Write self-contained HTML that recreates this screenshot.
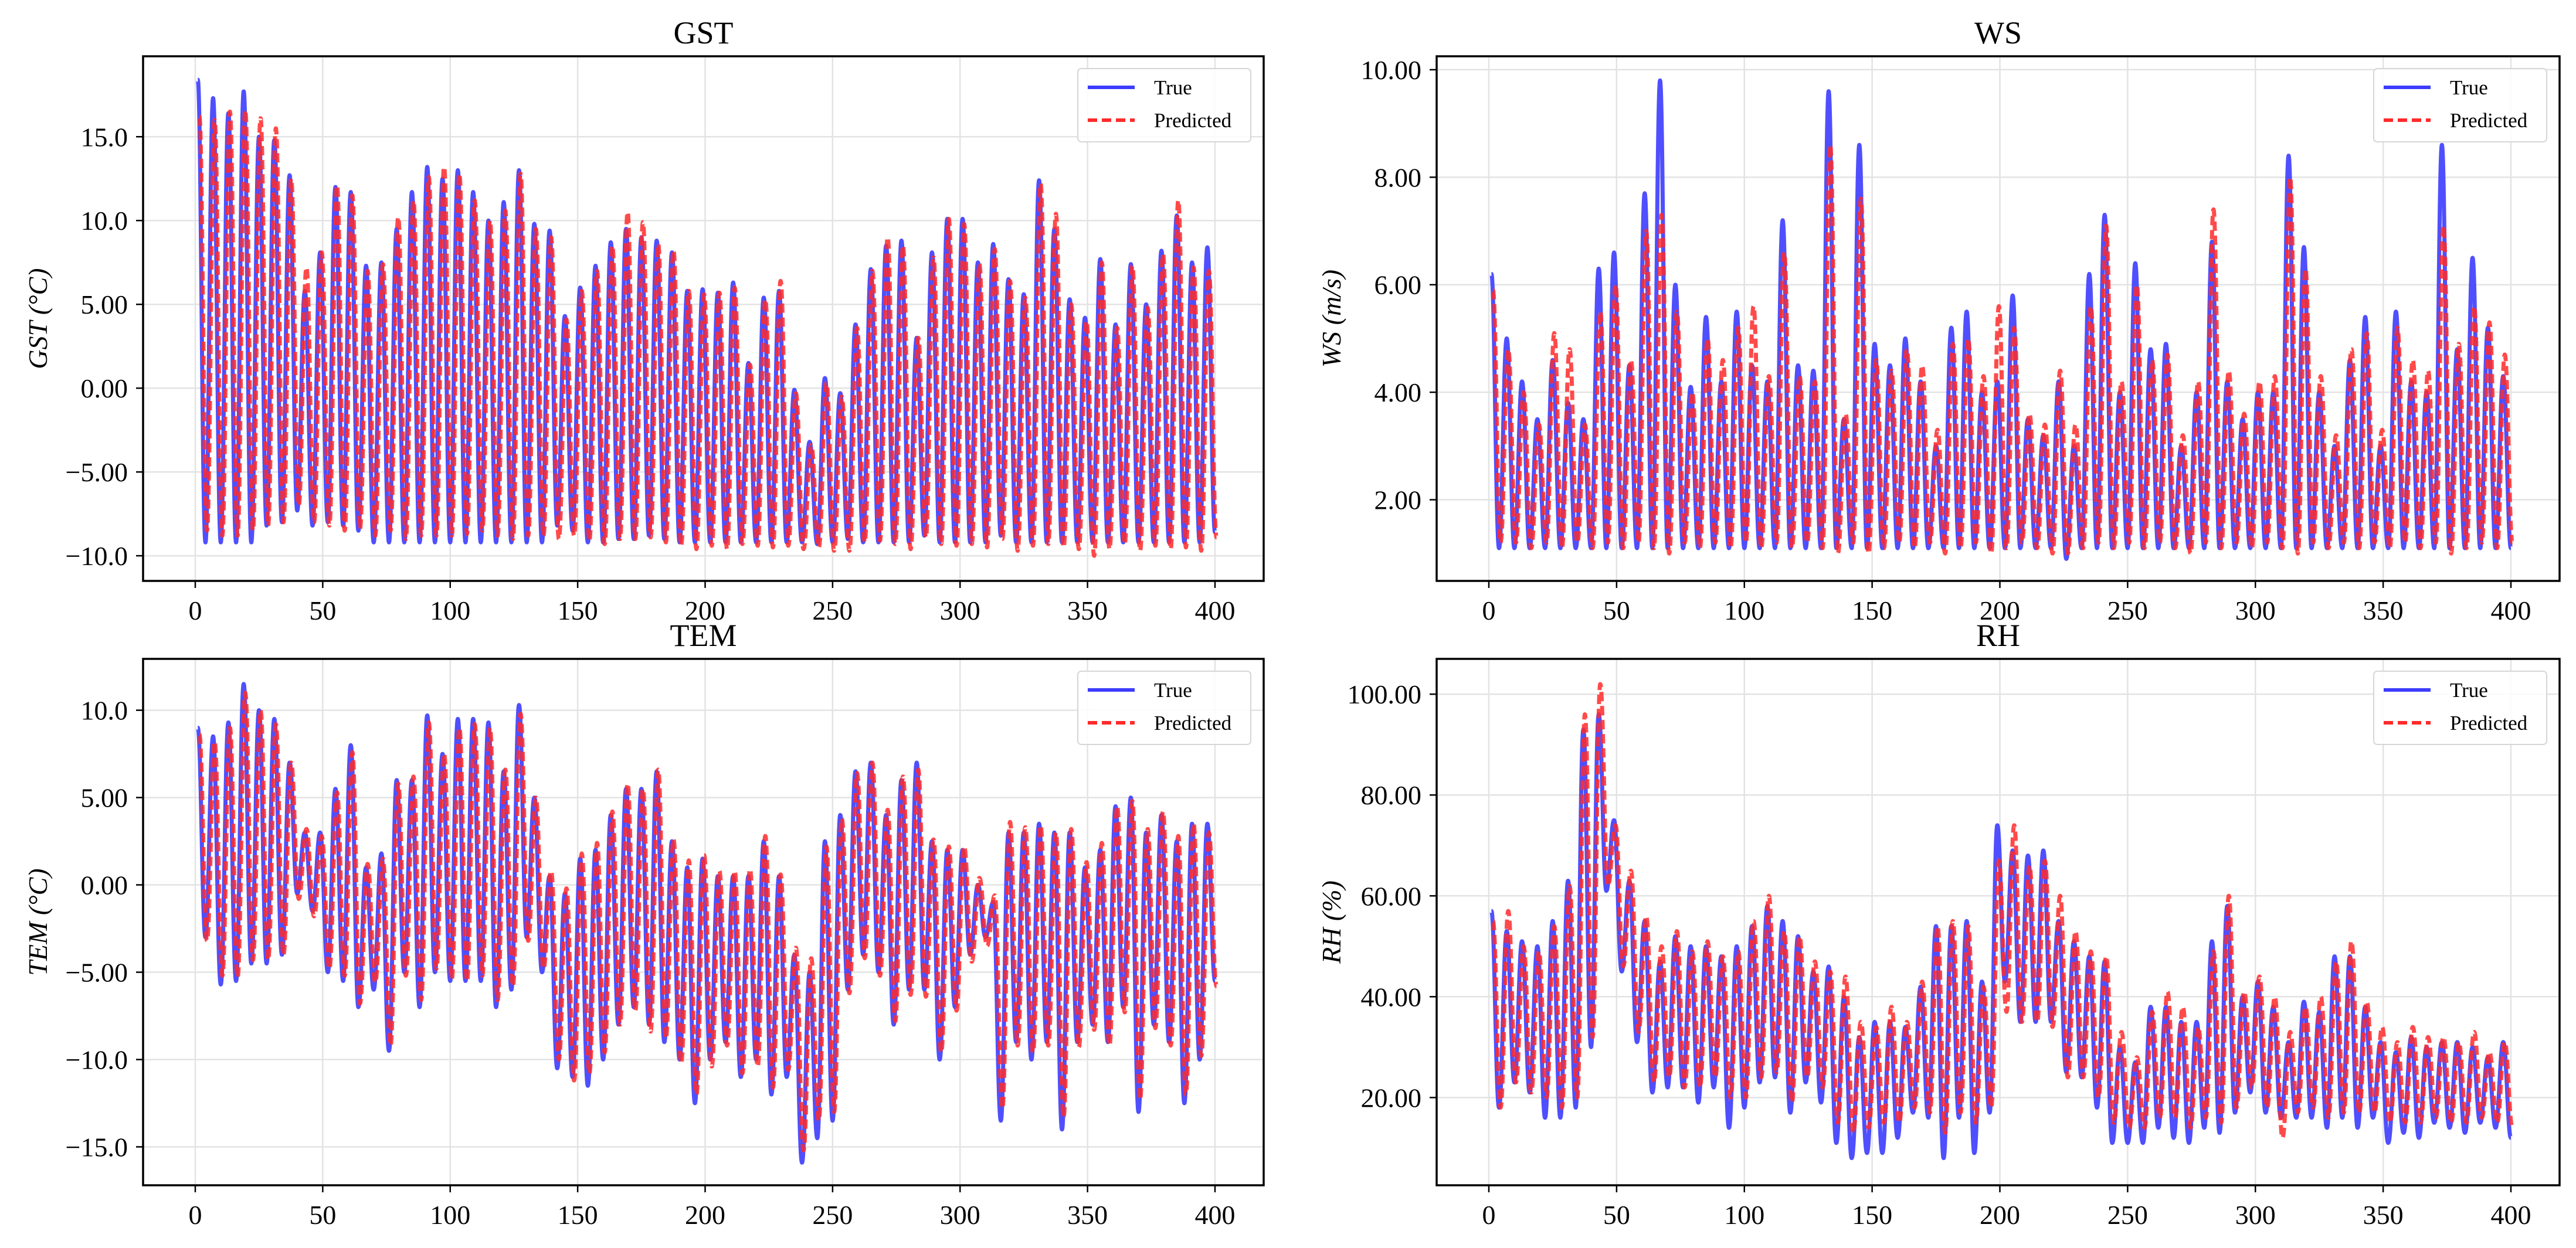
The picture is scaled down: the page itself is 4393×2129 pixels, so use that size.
<!DOCTYPE html>
<html><head><meta charset="utf-8"><style>
html,body{margin:0;padding:0;background:#fff;}
svg{display:block;font-family:"Liberation Serif","DejaVu Serif",serif;}
</style></head><body>
<svg id="chart" width="4393" height="2129" viewBox="0 0 4393 2129" xmlns="http://www.w3.org/2000/svg"></svg>
<script>
// ---- data: per-cycle peak/trough values (cycle length 6 steps) ----
const gstTruePeak=[18.4,17.3,16.4,17.7,15.0,14.8,12.7,5.8,8.1,12.0,11.7,7.3,7.5,9.5,11.7,13.2,12.5,13.0,11.7,10.0,11.1,13.0,9.8,9.4,4.3,6.0,7.3,8.7,9.5,9.0,8.8,8.1,5.8,5.9,5.7,6.3,1.5,5.4,5.8,-0.1,-3.2,0.6,-0.3,3.8,7.1,8.5,8.8,3.0,8.1,10.1,10.1,7.5,8.6,6.5,5.6,12.4,9.5,5.3,4.2,7.7,3.8,7.4,5.0,8.2,10.3,7.5,8.4];
const gstTrueTrough=[-9.2,-9.2,-9.2,-9.2,-8.2,-8.0,-7.3,-8.2,-8.0,-8.2,-8.5,-9.2,-9.2,-9.2,-9.2,-9.2,-9.2,-9.2,-9.2,-9.2,-9.2,-9.2,-9.2,-8.2,-8.5,-9.2,-9.2,-9.0,-9.0,-8.8,-9.0,-9.2,-9.2,-9.2,-9.2,-9.2,-9.2,-9.2,-9.2,-9.2,-9.3,-9.2,-9.0,-9.2,-9.2,-9.2,-9.2,-8.8,-9.2,-9.2,-9.2,-9.2,-8.8,-9.2,-9.2,-9.2,-9.2,-9.2,-9.2,-9.2,-9.2,-9.2,-9.2,-9.2,-9.2,-9.2,-8.6];
const gstPredPeak=[16.2,16.0,16.5,16.6,16.1,15.5,12.5,7.2,8.1,12.1,11.5,7.0,7.4,10.2,11.2,12.6,13.2,12.8,11.2,10.0,10.6,12.8,9.5,9.0,4.1,5.8,7.0,8.5,10.5,9.9,8.6,8.2,5.8,5.6,5.7,6.0,1.4,5.3,6.4,-0.3,-3.4,0.3,-0.5,3.6,7.0,9.0,8.5,3.0,7.8,10.1,9.8,7.4,8.3,6.4,5.4,12.2,10.4,5.0,4.0,7.5,3.6,7.3,4.8,8.0,11.2,7.2,7.0];
const gstPredTrough=[-8.5,-8.8,-8.8,-8.5,-8.2,-8.0,-7.0,-8.0,-8.2,-8.5,-8.4,-8.8,-8.5,-9.0,-8.8,-8.8,-8.8,-8.7,-8.5,-8.8,-9.0,-8.8,-8.8,-9.0,-8.8,-9.1,-9.3,-9.0,-9.0,-8.9,-9.2,-9.4,-9.6,-9.4,-9.6,-9.3,-9.4,-9.5,-9.4,-9.6,-9.5,-9.7,-9.7,-9.2,-9.1,-9.3,-9.6,-8.9,-9.3,-9.4,-9.3,-9.5,-9.0,-9.7,-9.4,-9.3,-9.5,-9.6,-10.0,-9.6,-9.3,-9.7,-9.4,-9.6,-9.5,-9.7,-8.9];
const wsTruePeak=[6.2,5.0,4.2,3.5,4.6,3.8,3.5,6.3,6.6,4.5,7.7,9.8,6.0,4.1,5.4,4.2,5.5,4.5,4.2,7.2,4.5,4.4,9.6,3.5,8.6,4.9,4.5,5.0,4.2,3.0,5.2,5.5,4.0,4.2,5.8,3.5,3.2,4.2,3.0,6.2,7.3,4.0,6.4,4.8,4.9,3.0,4.0,6.8,4.2,3.5,4.0,4.0,8.4,6.7,4.0,3.0,4.6,5.4,3.0,5.5,4.2,4.0,8.6,4.8,6.5,5.2,4.3];
const wsTrueTrough=[1.1,1.1,1.1,1.1,1.1,1.1,1.1,1.1,1.1,1.1,1.1,1.1,1.1,1.1,1.1,1.1,1.1,1.1,1.1,1.1,1.1,1.1,1.1,1.1,1.1,1.1,1.1,1.1,1.1,1.1,1.1,1.1,1.1,1.1,1.1,1.1,1.1,0.9,1.1,1.1,1.1,1.1,1.1,1.1,1.1,1.1,1.1,1.1,1.1,1.1,1.1,1.1,1.1,1.1,1.1,1.1,1.1,1.1,1.1,1.1,1.1,1.1,1.1,1.1,1.1,1.1,1.1];
const wsPredPeak=[5.9,4.8,4.0,3.4,5.1,4.8,3.4,5.5,6.0,4.6,7.0,7.3,5.5,4.0,5.0,4.6,5.2,5.6,4.3,6.6,4.3,4.2,8.6,3.6,7.6,4.6,4.4,4.8,4.5,3.3,4.9,5.0,4.3,5.6,5.2,3.6,3.4,4.4,3.4,5.6,7.1,4.2,6.0,4.6,4.7,3.2,4.2,7.4,4.4,3.6,4.2,4.3,8.0,6.3,4.3,3.2,4.8,5.1,3.3,5.2,4.6,4.4,7.1,4.9,5.6,5.3,4.7];
const wsPredTrough=[1.2,1.2,1.1,1.2,1.1,1.2,1.1,1.2,1.1,1.2,1.1,1.0,1.2,1.1,1.2,1.1,1.2,1.1,1.2,1.1,1.2,1.1,1.0,1.2,1.0,1.1,1.2,1.1,1.2,1.0,1.1,1.2,1.0,1.1,1.2,1.1,1.0,1.0,1.1,1.2,1.1,1.2,1.1,1.2,1.1,1.0,1.2,1.1,1.2,1.1,1.2,1.1,1.0,1.2,1.1,1.2,1.1,1.2,1.1,1.2,1.1,1.2,1.0,1.1,1.2,1.1,1.2];
const temTruePeak=[9.0,8.5,9.3,11.5,10.0,9.5,7.0,3.0,3.0,5.5,8.0,1.0,1.8,6.0,6.0,9.7,7.5,9.5,9.5,9.3,6.5,10.3,5.0,0.5,-0.5,1.5,2.0,4.0,5.5,5.5,6.5,2.5,1.0,1.5,0.5,0.5,0.5,2.5,0.5,-4.0,-5.0,2.5,4.0,6.5,7.0,4.0,6.0,7.0,2.5,2.0,2.0,0.0,-1.0,3.0,3.0,3.5,3.0,3.0,1.0,2.0,4.5,5.0,3.0,4.0,2.5,3.5,3.5];
const temTrueTrough=[-3.0,-5.7,-5.5,-4.5,-4.5,-4.0,-0.5,-1.5,-5.0,-5.5,-7.0,-6.0,-9.5,-5.0,-7.0,-5.0,-5.5,-5.5,-5.5,-7.0,-6.0,-3.0,-5.0,-10.5,-11.0,-11.5,-10.0,-8.0,-7.0,-8.0,-9.0,-10.0,-12.5,-10.0,-9.0,-11.0,-10.0,-12.0,-11.0,-15.9,-14.5,-13.5,-6.0,-4.0,-5.0,-8.0,-6.0,-6.0,-10.0,-7.0,-4.0,-3.0,-13.5,-9.0,-10.0,-9.0,-14.0,-9.0,-8.0,-9.0,-7.0,-13.0,-8.0,-9.0,-12.5,-10.0,-5.5];
const temPredPeak=[8.6,8.2,9.0,11.0,10.0,9.2,7.0,3.2,2.8,5.3,7.6,1.2,1.5,5.8,6.2,9.3,7.5,9.0,9.2,9.0,6.6,9.8,5.0,0.8,-0.2,1.8,2.4,4.2,5.8,5.5,6.6,2.6,1.4,1.7,0.8,0.8,0.9,2.8,0.6,-3.6,-4.2,2.2,3.8,6.4,7.0,4.3,6.2,6.6,2.6,2.2,2.2,0.4,-0.6,3.6,3.3,3.4,3.0,3.2,1.3,2.4,4.5,4.8,3.2,4.2,2.8,3.5,3.0];
const temPredTrough=[-3.2,-5.2,-5.3,-4.3,-4.3,-4.0,-0.8,-1.8,-4.8,-5.2,-6.8,-5.6,-9.2,-5.2,-6.6,-4.8,-5.4,-5.5,-5.2,-6.6,-5.8,-3.2,-4.8,-10.0,-11.2,-10.8,-9.6,-8.0,-7.2,-8.4,-8.8,-10.2,-12.0,-10.4,-9.2,-10.8,-10.4,-11.6,-10.6,-15.2,-13.5,-13.0,-6.2,-4.2,-5.2,-7.8,-6.3,-6.4,-9.6,-7.2,-4.4,-3.5,-12.8,-9.2,-9.6,-9.2,-13.3,-9.3,-8.3,-9.2,-7.3,-12.3,-8.2,-9.2,-12.0,-9.8,-5.8];
const rhTruePeak=[57,53,51,50,55,63,93,96,75,63,55,47,52,50,50,48,50,54,58,55,52,45,46,40,32,35,35,34,42,54,54,55,43,74,69,68,69,55,51,48,47,30,27,38,38,35,35,51,58,40,43,38,31,39,37,48,48,38,31,29,32,30,31,31,30,28,31];
const rhTrueTrough=[18,23,21,16,16,18,30,61,45,31,21,22,22,19,22,14,18,23,24,17,23,19,11,8,9,9,12,17,16,8,16,9,17,43,35,35,35,25,24,18,11,11,11,14,12,11,14,13,17,21,17,16,16,16,14,16,14,16,11,13,12,15,14,13,15,14,12];
const rhPredPeak=[55,57,50,49,54,62,96,102,74,65,56,50,53,49,51,48,49,55,60,53,52,47,45,44,35,34,38,35,43,54,55,54,42,67,74,66,67,60,53,49,48,33,28,37,41,38,34,49,60,41,44,40,33,38,40,47,51,39,34,31,34,32,32,31,33,29,31];
const rhPredTrough=[18,23,21,20,18,20,32,62,46,33,23,24,22,22,24,20,20,24,25,19,24,22,15,13,14,15,15,18,17,13,17,15,18,37,35,35,34,24,24,20,15,14,14,16,16,14,16,15,18,22,18,12,17,18,16,17,17,17,15,15,15,16,15,15,16,15,14];
const xTicks=[0,50,100,150,200,250,300,350,400];
const gstTicks=[-10,-5,0,5,10,15], gstTickLabels=["\u221210.0","\u22125.00","0.00","5.00","10.0","15.0"];
const wsTicks=[2,4,6,8,10], wsTickLabels=["2.00","4.00","6.00","8.00","10.00"];
const temTicks=[-15,-10,-5,0,5,10], temTickLabels=["\u221215.0","\u221210.0","\u22125.00","0.00","5.00","10.0"];
const rhTicks=[20,40,60,80,100], rhTickLabels=["20.00","40.00","60.00","80.00","100.00"];

const NS="http://www.w3.org/2000/svg";
const svg=document.getElementById('chart');
function mk(tag,attrs,parent){const e=document.createElementNS(NS,tag);for(const k in attrs)e.setAttribute(k,attrs[k]);(parent||svg).appendChild(e);return e;}
function series(peaks,troughs,shift){const pts=[];for(let i=0;i<peaks.length;i++){pts.push([6*i+1+shift,peaks[i]]);if(i<troughs.length)pts.push([6*i+4+shift,troughs[i]]);}return pts;}
function smoothPath(pts,X,Y){let d='M'+X(pts[0][0]).toFixed(1)+','+Y(pts[0][1]).toFixed(1);
  for(let i=1;i<pts.length;i++){const xa=X(pts[i-1][0]),ya=Y(pts[i-1][1]),xb=X(pts[i][0]),yb=Y(pts[i][1]);const h=(xb-xa)*0.42;
    d+=' C'+(xa+h).toFixed(1)+','+ya.toFixed(1)+' '+(xb-h).toFixed(1)+','+yb.toFixed(1)+' '+xb.toFixed(1)+','+yb.toFixed(1);}
  return d;}

const panels=[
 {key:'gst',title:'GST',ylabel:'GST (°C)',L:244,R:2155,T:96,B:991,ymin:-11.5,ymax:19.8,ticks:gstTicks,labels:gstTickLabels,tp:gstTruePeak,tt:gstTrueTrough,pp:gstPredPeak,pt:gstPredTrough},
 {key:'ws',title:'WS',ylabel:'WS (m/s)',L:2450,R:4365,T:96,B:991,ymin:0.49,ymax:10.25,ticks:wsTicks,labels:wsTickLabels,tp:wsTruePeak,tt:wsTrueTrough,pp:wsPredPeak,pt:wsPredTrough},
 {key:'tem',title:'TEM',ylabel:'TEM (°C)',L:244,R:2155,T:1124,B:2022,ymin:-17.2,ymax:12.94,ticks:temTicks,labels:temTickLabels,tp:temTruePeak,tt:temTrueTrough,pp:temPredPeak,pt:temPredTrough},
 {key:'rh',title:'RH',ylabel:'RH (%)',L:2450,R:4365,T:1124,B:2022,ymin:2.6,ymax:107,ticks:rhTicks,labels:rhTickLabels,tp:rhTruePeak,tt:rhTrueTrough,pp:rhPredPeak,pt:rhPredTrough}
];
panels.forEach(p=>{
  const g=mk('g',{});
  
  
  const x0=p.L+89, x1=p.R-83;
  const X=v=>x0+(v/400)*(x1-x0);
  const Y=v=>p.B-(v-p.ymin)/(p.ymax-p.ymin)*(p.B-p.T);
  const cx=(p.L+p.R)/2;
  const t=mk('text',{x:cx,y:p.T-22,'text-anchor':'middle','font-size':54,fill:'#000'},g);t.textContent=p.title;
  
  xTicks.forEach(v=>{const l=mk('line',{x1:X(v),x2:X(v),y1:p.T,y2:p.B,stroke:'#e3e3e3','stroke-width':2.5},g);});
  p.ticks.forEach(v=>{const l=mk('line',{x1:p.L,x2:p.R,y1:Y(v),y2:Y(v),stroke:'#e3e3e3','stroke-width':2.5},g);});
  const clip=mk('clipPath',{id:'clip-'+p.key},g);mk('rect',{x:p.L,y:p.T,width:p.R-p.L,height:p.B-p.T},clip);
  const tr=series(p.tp,p.tt,0), pr=series(p.pp,p.pt,0.6);
  const l1=mk('path',{d:smoothPath(tr,X,Y),fill:'none',stroke:'#3c3cff','stroke-opacity':0.9,'stroke-width':7,'stroke-linejoin':'round','clip-path':'url(#clip-'+p.key+')'},g);
  
  const l2=mk('path',{d:smoothPath(pr,X,Y),fill:'none',stroke:'#ff2a2a','stroke-opacity':0.85,'stroke-width':7,'stroke-dasharray':'16,8','clip-path':'url(#clip-'+p.key+')'},g);
  
  const fr=mk('rect',{x:p.L,y:p.T,width:p.R-p.L,height:p.B-p.T,fill:'none',stroke:'#000','stroke-width':3.5},g);
  
  xTicks.forEach(v=>{mk('line',{x1:X(v),x2:X(v),y1:p.B,y2:p.B+12,stroke:'#000','stroke-width':2.5},g);
    const tl=mk('text',{x:X(v),y:p.B+66,'text-anchor':'middle','font-size':46,fill:'#000'},g);tl.textContent=v;
    });
  p.ticks.forEach((v,i)=>{mk('line',{x1:p.L-12,x2:p.L,y1:Y(v),y2:Y(v),stroke:'#000','stroke-width':2.5},g);
    const tl=mk('text',{x:p.L-26,y:Y(v)+16,'text-anchor':'end','font-size':46,fill:'#000'},g);tl.textContent=p.labels[i];
    });
  const yl=mk('text',{x:0,y:0,'text-anchor':'middle','font-size':46,'font-style':'italic',fill:'#000',transform:'translate('+(p.L-164)+','+((p.T+p.B)/2)+') rotate(-90)'},g);
  yl.textContent=p.ylabel;
  const lg=mk('g',{},g);
  const lx=p.R-317, ly=p.T+21;
  mk('rect',{x:lx,y:ly,width:295,height:125,rx:6,fill:'#fff','fill-opacity':0.85,stroke:'#d6d6d6','stroke-width':2},lg);
  const e1=mk('g',{},lg);
  mk('line',{x1:lx+17,x2:lx+97,y1:ly+32,y2:ly+32,stroke:'#3c3cff','stroke-width':6},e1);
  const tt=mk('text',{x:lx+130,y:ly+44,'font-size':35,fill:'#000'},e1);tt.textContent='True';
  const e2=mk('g',{},lg);
  mk('line',{x1:lx+17,x2:lx+97,y1:ly+88,y2:ly+88,stroke:'#ff2a2a','stroke-width':6,'stroke-dasharray':'16,8'},e2);
  const pt=mk('text',{x:lx+130,y:ly+100,'font-size':35,fill:'#000'},e2);pt.textContent='Predicted';
});
</script>
</body></html>
